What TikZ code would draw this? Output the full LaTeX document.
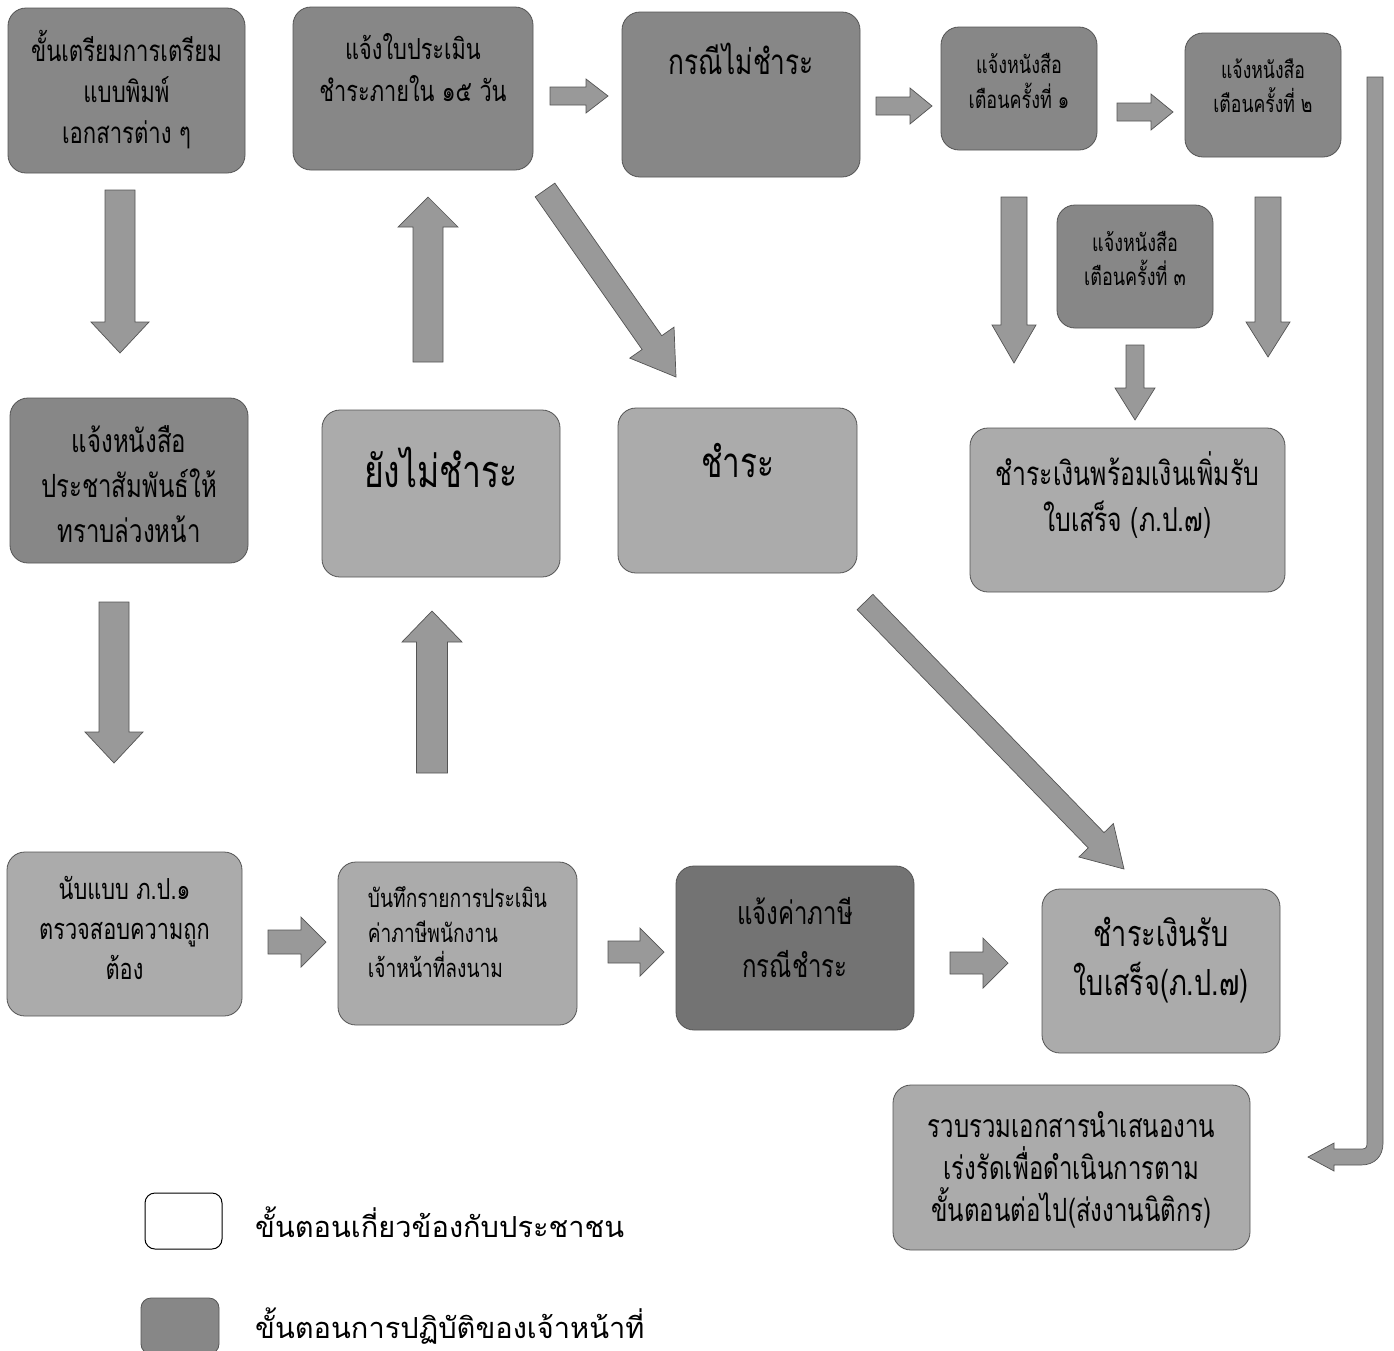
\documentclass[tikz,border=0pt]{standalone}
\usepackage{fontspec}
\newfontfamily\thaifont[Script=Thai,FakeStretch=0.75]{Loma}
\newfontfamily\thaileg[Script=Thai]{Loma}
\usetikzlibrary{calc}
\definecolor{boxdark}{gray}{0.53}
\definecolor{boxlight}{gray}{0.67}
\definecolor{boxdarker}{gray}{0.45}
\definecolor{arrowfill}{gray}{0.60}
\definecolor{edge}{gray}{0.33}
\tikzset{
  box/.style={rounded corners=18pt, draw=edge, line width=0.8pt, inner sep=0pt},
  darkbox/.style={box, fill=boxdark},
  lightbox/.style={box, fill=boxlight},
  darkerbox/.style={box, fill=boxdarker},
  txtf/.style 2 args={font=\thaifont\fontsize{#1}{#2}\selectfont, align=center, text=black, inner sep=0pt},
  barr/.style={fill=arrowfill, draw=edge, line width=0.7pt},
  legtxt/.style={font=\thaileg\fontsize{29}{36}\selectfont, anchor=west, inner sep=0pt},
}
\newcommand{\blockarrow}[5]{%
  \coordinate (ba-n) at ($(#2)!#5!(#1)$);
  \filldraw[barr] ($(#1)!#3!90:(#2)$) -- ($(ba-n)!#3!90:(#2)$) -- ($(ba-n)!#4!90:(#2)$)
     -- (#2) -- ($(ba-n)!#4!-90:(#2)$) -- ($(ba-n)!#3!-90:(#2)$) -- ($(#1)!#3!-90:(#2)$) -- cycle;
}
\begin{document}
\begin{tikzpicture}[x=1pt,y=-1pt]
\useasboundingbox (0,0) rectangle (1394,1350);

% boxes
\node[darkbox, minimum width=237pt, minimum height=165pt,
  label={[txtf={29.5}{41}, yshift=1pt]center:{ขั้นเตรียมการเตรียม\\แบบพิมพ์\\เอกสารต่าง ๆ}}] (b1) at (126.5,90.5) {};
\node[darkbox, minimum width=240pt, minimum height=163pt,
  label={[txtf={29}{42}, yshift=21pt]center:{แจ้งใบประเมิน\\ชำระภายใน ๑๕ วัน}}] (b2) at (413,88.5) {};
\node[darkbox, minimum width=238pt, minimum height=165pt,
  label={[txtf={35}{40}, yshift=36pt]center:{กรณีไม่ชำระ}}] (b3) at (741,94.5) {};
\node[darkbox, minimum width=156pt, minimum height=123pt,
  label={[txtf={24}{35}, yshift=8pt]center:{แจ้งหนังสือ\\เตือนครั้งที่ ๑}}] (b4) at (1019,88.5) {};
\node[darkbox, minimum width=156pt, minimum height=124pt,
  label={[txtf={23.5}{34}, yshift=9pt]center:{แจ้งหนังสือ\\เตือนครั้งที่ ๒}}] (b5) at (1263,95) {};
\node[darkbox, minimum width=156pt, minimum height=123pt,
  label={[txtf={24}{34}, yshift=8pt]center:{แจ้งหนังสือ\\เตือนครั้งที่ ๓}}] (b6) at (1135,266.5) {};
\node[lightbox, minimum width=315pt, minimum height=164pt,
  label={[txtf={33}{46}, yshift=15pt]center:{ชำระเงินพร้อมเงินเพิ่มรับ\\ใบเสร็จ (ภ.ป.๗)}}] (b7) at (1127.5,510) {};
\node[darkbox, minimum width=238pt, minimum height=165pt,
  label={[txtf={32}{45}, yshift=-4pt]center:{แจ้งหนังสือ\\ประชาสัมพันธ์ให้\\ทราบล่วงหน้า}}] (b8) at (129,480.5) {};
\node[lightbox, minimum width=238pt, minimum height=167pt,
  label={[txtf={45}{40}, yshift=26pt]center:{ยังไม่ชำระ}}] (b9) at (441,493.5) {};
\node[lightbox, minimum width=239pt, minimum height=165pt,
  label={[txtf={42}{40}, yshift=30pt]center:{ชำระ}}] (b10) at (737.5,490.5) {};
\node[lightbox, minimum width=235pt, minimum height=164pt,
  label={[txtf={29}{40}, yshift=6pt]center:{นับแบบ ภ.ป.๑\\ตรวจสอบความถูก\\ต้อง}}] (b11) at (124.5,934) {};
\node[lightbox, minimum width=239pt, minimum height=163pt,
  label={[txtf={25.5}{35}, align=left, yshift=11pt]center:{บันทึกรายการประเมิน\\ค่าภาษีพนักงาน\\เจ้าหน้าที่ลงนาม}}] (b12) at (457.5,943.5) {};
\node[darkerbox, minimum width=238pt, minimum height=164pt,
  label={[txtf={32}{53}, yshift=10pt]center:{แจ้งค่าภาษี\\กรณีชำระ}}] (b13) at (795,948) {};
\node[lightbox, minimum width=238pt, minimum height=164pt,
  label={[txtf={36}{49}, yshift=11pt]center:{ชำระเงินรับ\\ใบเสร็จ(ภ.ป.๗)}}] (b14) at (1161,971) {};
\node[lightbox, minimum width=357pt, minimum height=165pt,
  label={[txtf={32}{42}, yshift=-2pt]center:{รวบรวมเอกสารนำเสนองาน\\เร่งรัดเพื่อดำเนินการตาม\\ขั้นตอนต่อไป(ส่งงานนิติกร)}}] (b15) at (1071.5,1167.5) {};

% arrow end points
\coordinate (a1s) at (120,190);  \coordinate (a1e) at (120,353);
\coordinate (a2s) at (114,602);  \coordinate (a2e) at (114,763);
\coordinate (a3s) at (428,362);  \coordinate (a3e) at (428,197);
\coordinate (a4s) at (432,773);  \coordinate (a4e) at (432,611);
\coordinate (a5s) at (550,96);   \coordinate (a5e) at (608,96);
\coordinate (a6s) at (876,106);  \coordinate (a6e) at (932,106);
\coordinate (a7s) at (1117,112); \coordinate (a7e) at (1173,112);
\coordinate (a8s) at (545,190);  \coordinate (a8e) at (676,377);
\coordinate (a9s) at (865,602);  \coordinate (a9e) at (1124,869);
\coordinate (a10s) at (1014,197); \coordinate (a10e) at (1014,363);
\coordinate (a11s) at (1135,345); \coordinate (a11e) at (1135,420);
\coordinate (a12s) at (1268,197); \coordinate (a12e) at (1268,357);
\coordinate (a13s) at (268,942); \coordinate (a13e) at (326,942);
\coordinate (a14s) at (608,952); \coordinate (a14e) at (664,952);
\coordinate (a15s) at (950,963); \coordinate (a15e) at (1008,963);

\blockarrow{a1s}{a1e}{15pt}{29pt}{31pt}
\blockarrow{a2s}{a2e}{15pt}{29pt}{31pt}
\blockarrow{a3s}{a3e}{15pt}{30pt}{30pt}
\blockarrow{a4s}{a4e}{15.5pt}{30pt}{31pt}
\blockarrow{a5s}{a5e}{9pt}{17pt}{22pt}
\blockarrow{a6s}{a6e}{9pt}{18pt}{22pt}
\blockarrow{a7s}{a7e}{9pt}{18pt}{22pt}
\blockarrow{a8s}{a8e}{12pt}{27pt}{42pt}
\blockarrow{a9s}{a9e}{11pt}{24pt}{40pt}
\blockarrow{a10s}{a10e}{13pt}{22pt}{38pt}
\blockarrow{a11s}{a11e}{9pt}{20pt}{32pt}
\blockarrow{a12s}{a12e}{13pt}{22pt}{35pt}
\blockarrow{a13s}{a13e}{12pt}{25pt}{25pt}
\blockarrow{a14s}{a14e}{11pt}{24pt}{24pt}
\blockarrow{a15s}{a15e}{11pt}{25pt}{25pt}

% long bent arrow
\coordinate (bentstart) at (1375,77);
\coordinate (benttip) at (1308,1157);
\filldraw[barr] (1367,77) -- (1383,77) -- (1383,1143)
  .. controls (1383,1156) and (1375,1165) .. (1361,1165)
  -- (1334,1165) -- (1334,1171) -- (benttip) -- (1334,1143) -- (1334,1149)
  -- (1362,1149) .. controls (1366,1149) and (1367,1147) .. (1367,1143) -- cycle;

% legend
\node[draw=black, line width=1pt, rounded corners=10pt, fill=white, minimum width=77pt, minimum height=56pt] (leg1) at (183.5,1221) {};
\node[draw=edge, line width=0.8pt, rounded corners=10pt, fill=boxdark, minimum width=78pt, minimum height=56pt] (leg2) at (180,1326) {};
\node[legtxt] (legt1) at (255,1222) {ขั้นตอนเกี่ยวข้องกับประชาชน};
\node[legtxt] (legt2) at (255,1326) {ขั้นตอนการปฏิบัติของเจ้าหน้าที่};
\end{tikzpicture}
\end{document}
